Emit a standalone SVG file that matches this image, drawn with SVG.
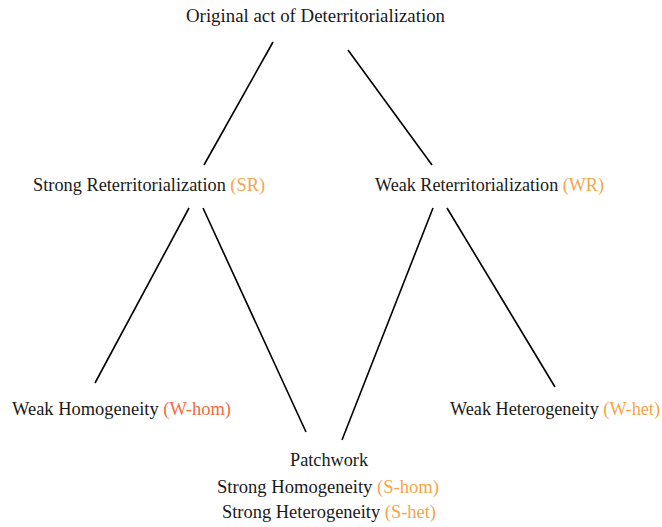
<svg xmlns="http://www.w3.org/2000/svg" width="662" height="527" viewBox="0 0 662 527">
<style>
text{font-family:"Liberation Serif","Times New Roman",serif;font-size:18px;fill:#1a1a1a}
.o{fill:#F7A44A}
.r{fill:#F36B3F}
line{stroke:#000;stroke-width:1.6}
</style>
<rect width="662" height="527" fill="#fff"/>
<g id="connectors">
<line x1="273" y1="42" x2="204" y2="165"/>
<line x1="348" y1="50" x2="432" y2="165"/>
<line x1="189" y1="208" x2="95" y2="383"/>
<line x1="203" y1="208" x2="306" y2="432"/>
<line x1="433" y1="208" x2="342" y2="440"/>
<line x1="447" y1="208" x2="555" y2="387"/>
</g>
<g id="n-origin"><text x="186" y="22" textLength="259" lengthAdjust="spacingAndGlyphs">Original act of Deterritorialization</text></g>
<g id="n-sr"><text x="33" y="191" textLength="232" lengthAdjust="spacingAndGlyphs">Strong Reterritorialization <tspan class="o">(SR)</tspan></text></g>
<g id="n-wr"><text x="375" y="191" textLength="229" lengthAdjust="spacingAndGlyphs">Weak Reterritorialization <tspan class="o">(WR)</tspan></text></g>
<g id="n-whom"><text x="12" y="415" textLength="219" lengthAdjust="spacingAndGlyphs">Weak Homogeneity <tspan class="r">(W-hom)</tspan></text></g>
<g id="n-whet"><text x="450" y="415" textLength="210" lengthAdjust="spacingAndGlyphs">Weak Heterogeneity <tspan class="o">(W-het)</tspan></text></g>
<g id="n-patch">
<text x="290" y="466" textLength="78" lengthAdjust="spacingAndGlyphs">Patchwork</text>
<text x="217" y="493" textLength="222" lengthAdjust="spacingAndGlyphs">Strong Homogeneity <tspan class="o">(S-hom)</tspan></text>
<text x="222" y="518" textLength="214" lengthAdjust="spacingAndGlyphs">Strong Heterogeneity <tspan class="o">(S-het)</tspan></text>
</g>
</svg>
